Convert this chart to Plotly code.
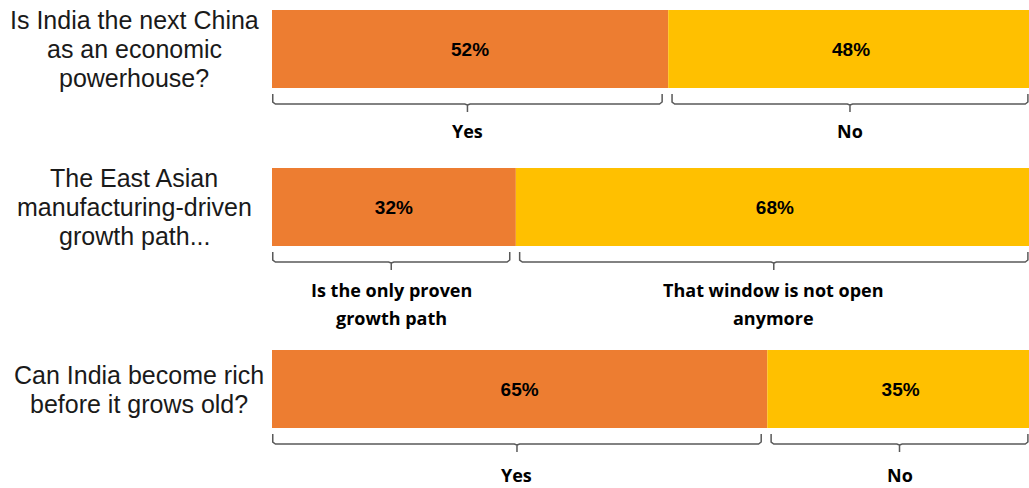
import plotly.graph_objects as go

questions = ["Is India the next China<br>as an economic<br>powerhouse?",
             "The East Asian<br>manufacturing-driven<br>growth path...",
             "Can India become rich<br>before it grows old?"]
first_vals = [52, 32, 65]
second_vals = [48, 68, 35]
first_labels = ["Yes", "Is the only proven<br>growth path", "Yes"]
second_labels = ["No", "That window is not open<br>anymore", "No"]

# layout helpers (pixel-based y axis)
bar_centers = [49, 207, 389]
bar_thick = 78
q_center_x = [134, 134, 139]
label_first_y = [131, 290, 475]
W, H = 1029, 488
x_left_px = 272
full_px = 762

ORANGE = "#ED7D31"
YELLOW = "#FFC000"
BRK = "#595959"

pct_font = dict(family="Liberation Sans", size=19, color="black", weight="bold")
fig = go.Figure()
fig.add_trace(go.Bar(
    y=bar_centers, x=first_vals, orientation="h", width=bar_thick,
    marker=dict(color=ORANGE, line=dict(width=0)),
    text=[f"{v}%" for v in first_vals], textposition="inside",
    insidetextanchor="middle", constraintext="none",
    textfont=pct_font, hoverinfo="skip"))
fig.add_trace(go.Bar(
    y=bar_centers, x=second_vals, base=first_vals, orientation="h", width=bar_thick,
    marker=dict(color=YELLOW, line=dict(width=0)),
    text=[f"{v}%" for v in second_vals], textposition="inside",
    insidetextanchor="middle", constraintext="none",
    textfont=pct_font, hoverinfo="skip"))

def bracket(x0, x1, ytop):
    c = 0.35
    ybot = ytop + 10
    mid = (x0 + x1) / 2
    xs = [x0, x0, x0 + c, mid - c, mid, mid, None, mid, mid + c, x1 - c, x1, x1]
    ys = [ytop, ybot - 2, ybot, ybot, ybot + 1, ybot + 8, None, ybot + 1, ybot, ybot, ybot - 2, ytop]
    return xs, ys

label_font = dict(family="Open Sans", size=18, color="black", weight="bold")
q_font = dict(family="Liberation Sans", size=25, color="#1a1a1a")
for i in range(3):
    ytop = bar_centers[i] + bar_thick / 2 + 6
    segs = [(0, first_vals[i], first_labels[i]),
            (first_vals[i], first_vals[i] + second_vals[i], second_labels[i])]
    for j, (a, b, lab) in enumerate(segs):
        x0 = a + (0.1 if j == 0 else 0.5)
        x1 = b - 0.8
        xs, ys = bracket(x0, x1, ytop)
        fig.add_trace(go.Scatter(x=xs, y=ys, mode="lines",
                                 line=dict(color=BRK, width=1.5),
                                 hoverinfo="skip", showlegend=False))
        for k, line in enumerate(lab.split("<br>")):
            fig.add_annotation(x=(x0 + x1) / 2, y=label_first_y[i] + 28 * k, text=line,
                               showarrow=False, xanchor="center", yanchor="middle",
                               font=label_font)
    qlines = questions[i].split("<br>")
    n = len(qlines)
    for k, line in enumerate(qlines):
        fig.add_annotation(x=q_center_x[i] / W, xref="paper",
                           y=bar_centers[i] + 29 * (k - (n - 1) / 2), yref="y",
                           text=line, showarrow=False, xanchor="center",
                           yanchor="middle", font=q_font)

fig.update_layout(
    width=W, height=H, margin=dict(l=0, r=0, t=0, b=0),
    paper_bgcolor="white", plot_bgcolor="white", barmode="overlay",
    showlegend=False,
    xaxis=dict(domain=[x_left_px / W, 1], range=[0, (W - x_left_px) / full_px * 100],
               visible=False, fixedrange=True),
    yaxis=dict(range=[H, 0], visible=False, fixedrange=True),
)
fig.write_html("out.html")
